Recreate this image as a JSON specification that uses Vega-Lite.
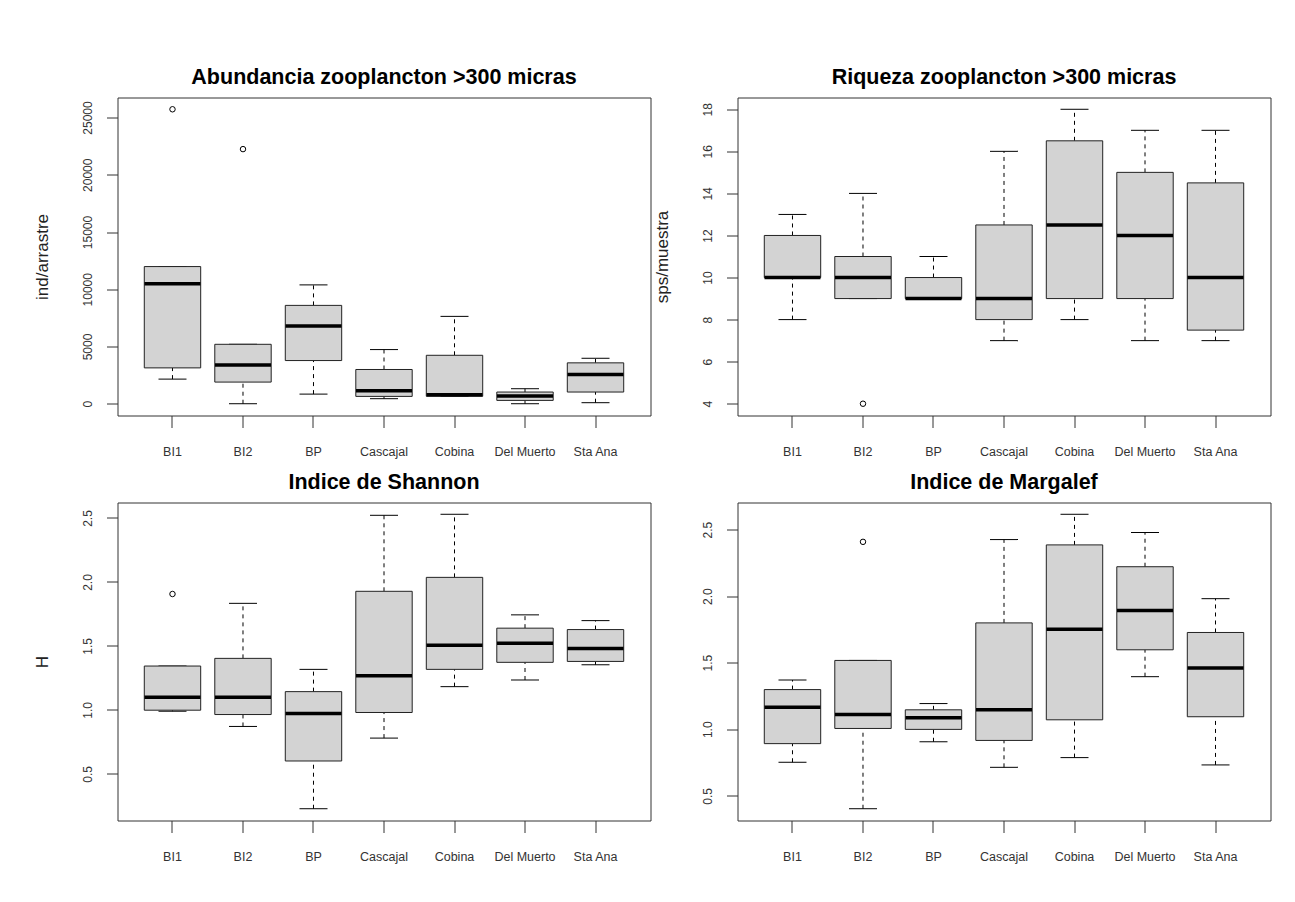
{
  "$schema": "https://vega.github.io/schema/vega-lite/v6.json",
  "background": "white",
  "padding": {"left": 32.5, "top": 65.5, "right": 5, "bottom": 5},
  "bounds": "flush",
  "columns": 2,
  "spacing": 87,
  "datasets": {
    "stats": [
      {"panel": "A", "site": "BI1", "lo": 2150, "q1": 3130, "med": 10470, "q3": 11980, "hi": 11980},
      {"panel": "A", "site": "BI2", "lo": 0, "q1": 1890, "med": 3390, "q3": 5190, "hi": 5190},
      {"panel": "A", "site": "BP", "lo": 840, "q1": 3770, "med": 6790, "q3": 8590, "hi": 10380},
      {"panel": "A", "site": "Cascajal", "lo": 440, "q1": 640, "med": 1130, "q3": 2990, "hi": 4730},
      {"panel": "A", "site": "Cobina", "lo": 640, "q1": 650, "med": 780, "q3": 4230, "hi": 7630},
      {"panel": "A", "site": "Del Muerto", "lo": 0, "q1": 290, "med": 670, "q3": 1020, "hi": 1310},
      {"panel": "A", "site": "Sta Ana", "lo": 90, "q1": 1020, "med": 2550, "q3": 3570, "hi": 3970},

      {"panel": "R", "site": "BI1", "lo": 8, "q1": 10, "med": 10, "q3": 12, "hi": 13},
      {"panel": "R", "site": "BI2", "lo": 9, "q1": 9, "med": 10, "q3": 11, "hi": 14},
      {"panel": "R", "site": "BP", "lo": 9, "q1": 9, "med": 9, "q3": 10, "hi": 11},
      {"panel": "R", "site": "Cascajal", "lo": 7, "q1": 8, "med": 9, "q3": 12.5, "hi": 16},
      {"panel": "R", "site": "Cobina", "lo": 8, "q1": 9, "med": 12.5, "q3": 16.5, "hi": 18},
      {"panel": "R", "site": "Del Muerto", "lo": 7, "q1": 9, "med": 12, "q3": 15, "hi": 17},
      {"panel": "R", "site": "Sta Ana", "lo": 7, "q1": 7.5, "med": 10, "q3": 14.5, "hi": 17},

      {"panel": "S", "site": "BI1", "lo": 0.99, "q1": 0.998, "med": 1.099, "q3": 1.343, "hi": 1.343},
      {"panel": "S", "site": "BI2", "lo": 0.871, "q1": 0.964, "med": 1.099, "q3": 1.403, "hi": 1.833},
      {"panel": "S", "site": "BP", "lo": 0.228, "q1": 0.601, "med": 0.972, "q3": 1.143, "hi": 1.317},
      {"panel": "S", "site": "Cascajal", "lo": 0.78, "q1": 0.98, "med": 1.268, "q3": 1.927, "hi": 2.521},
      {"panel": "S", "site": "Cobina", "lo": 1.182, "q1": 1.317, "med": 1.506, "q3": 2.036, "hi": 2.529},
      {"panel": "S", "site": "Del Muerto", "lo": 1.234, "q1": 1.372, "med": 1.522, "q3": 1.639, "hi": 1.743},
      {"panel": "S", "site": "Sta Ana", "lo": 1.353, "q1": 1.379, "med": 1.481, "q3": 1.628, "hi": 1.698},

      {"panel": "M", "site": "BI1", "lo": 0.752, "q1": 0.892, "med": 1.166, "q3": 1.298, "hi": 1.37},
      {"panel": "M", "site": "BI2", "lo": 0.403, "q1": 1.006, "med": 1.111, "q3": 1.517, "hi": 1.517},
      {"panel": "M", "site": "BP", "lo": 0.906, "q1": 0.999, "med": 1.086, "q3": 1.146, "hi": 1.193},
      {"panel": "M", "site": "Cascajal", "lo": 0.714, "q1": 0.916, "med": 1.146, "q3": 1.799, "hi": 2.425},
      {"panel": "M", "site": "Cobina", "lo": 0.787, "q1": 1.071, "med": 1.752, "q3": 2.385, "hi": 2.615},
      {"panel": "M", "site": "Del Muerto", "lo": 1.395, "q1": 1.597, "med": 1.892, "q3": 2.221, "hi": 2.478},
      {"panel": "M", "site": "Sta Ana", "lo": 0.732, "q1": 1.094, "med": 1.46, "q3": 1.727, "hi": 1.981}
    ],
    "outliers": [
      {"panel": "A", "site": "BI1", "value": 25720},
      {"panel": "A", "site": "BI2", "value": 22240},
      {"panel": "R", "site": "BI2", "value": 4},
      {"panel": "S", "site": "BI1", "value": 1.906},
      {"panel": "M", "site": "BI2", "value": 2.408}
    ]
  },
  "concat": [
    {
      "width": 533, "height": 318,
      "title": "Abundancia zooplancton >300 micras",
      "encoding": {
        "x": {"field": "site", "type": "nominal",
              "scale": {"domain": ["BI1", "BI2", "BP", "Cascajal", "Cobina", "Del Muerto", "Sta Ana"], "paddingInner": 0, "paddingOuter": 0.28},
              "axis": {"title": null, "bandPosition": 0.5}}
      },
      "layer": [
        {"data": {"name": "stats"}, "transform": [{"filter": "datum.panel == 'A'"}],
         "mark": {"type": "rule", "color": "black", "strokeDash": [4, 4]},
         "encoding": {"y": {"field": "q3", "type": "quantitative", "scale": {"domain": [-1029, 26749], "nice": false, "zero": false},
                            "axis": {"title": "ind/arrastre", "values": [0, 5000, 10000, 15000, 20000, 25000], "format": "d"}},
                      "y2": {"field": "hi"}}},
        {"data": {"name": "stats"}, "transform": [{"filter": "datum.panel == 'A'"}],
         "mark": {"type": "rule", "color": "black", "strokeDash": [4, 4]},
         "encoding": {"y": {"field": "lo", "type": "quantitative"}, "y2": {"field": "q1"}}},
        {"data": {"name": "stats"}, "transform": [{"filter": "datum.panel == 'A'"}],
         "mark": {"type": "tick", "color": "black", "opacity": 1, "size": 28, "thickness": 1},
         "encoding": {"y": {"field": "hi", "type": "quantitative"}}},
        {"data": {"name": "stats"}, "transform": [{"filter": "datum.panel == 'A'"}],
         "mark": {"type": "tick", "color": "black", "opacity": 1, "size": 28, "thickness": 1},
         "encoding": {"y": {"field": "lo", "type": "quantitative"}}},
        {"data": {"name": "stats"}, "transform": [{"filter": "datum.panel == 'A'"}],
         "mark": {"type": "bar", "width": {"band": 0.8}, "fill": "#d3d3d3", "stroke": "#222", "strokeWidth": 1},
         "encoding": {"y": {"field": "q1", "type": "quantitative"}, "y2": {"field": "q3"}}},
        {"data": {"name": "stats"}, "transform": [{"filter": "datum.panel == 'A'"}],
         "mark": {"type": "tick", "color": "black", "opacity": 1, "size": 56, "thickness": 3.5},
         "encoding": {"y": {"field": "med", "type": "quantitative"}}},
        {"data": {"name": "outliers"}, "transform": [{"filter": "datum.panel == 'A'"}],
         "mark": {"type": "point", "shape": "circle", "filled": false, "opacity": 1, "size": 30, "stroke": "black", "strokeWidth": 1},
         "encoding": {"y": {"field": "value", "type": "quantitative"}}}
      ]
    },
    {
      "width": 533, "height": 318,
      "title": "Riqueza zooplancton >300 micras",
      "encoding": {
        "x": {"field": "site", "type": "nominal",
              "scale": {"domain": ["BI1", "BI2", "BP", "Cascajal", "Cobina", "Del Muerto", "Sta Ana"], "paddingInner": 0, "paddingOuter": 0.28},
              "axis": {"title": null, "bandPosition": 0.5}}
      },
      "layer": [
        {"data": {"name": "stats"}, "transform": [{"filter": "datum.panel == 'R'"}],
         "mark": {"type": "rule", "color": "black", "strokeDash": [4, 4]},
         "encoding": {"y": {"field": "q3", "type": "quantitative", "scale": {"domain": [3.44, 18.56], "nice": false, "zero": false},
                            "axis": {"title": "sps/muestra", "values": [4, 6, 8, 10, 12, 14, 16, 18], "format": "d"}},
                      "y2": {"field": "hi"}}},
        {"data": {"name": "stats"}, "transform": [{"filter": "datum.panel == 'R'"}],
         "mark": {"type": "rule", "color": "black", "strokeDash": [4, 4]},
         "encoding": {"y": {"field": "lo", "type": "quantitative"}, "y2": {"field": "q1"}}},
        {"data": {"name": "stats"}, "transform": [{"filter": "datum.panel == 'R'"}],
         "mark": {"type": "tick", "color": "black", "opacity": 1, "size": 28, "thickness": 1},
         "encoding": {"y": {"field": "hi", "type": "quantitative"}}},
        {"data": {"name": "stats"}, "transform": [{"filter": "datum.panel == 'R'"}],
         "mark": {"type": "tick", "color": "black", "opacity": 1, "size": 28, "thickness": 1},
         "encoding": {"y": {"field": "lo", "type": "quantitative"}}},
        {"data": {"name": "stats"}, "transform": [{"filter": "datum.panel == 'R'"}],
         "mark": {"type": "bar", "width": {"band": 0.8}, "fill": "#d3d3d3", "stroke": "#222", "strokeWidth": 1},
         "encoding": {"y": {"field": "q1", "type": "quantitative"}, "y2": {"field": "q3"}}},
        {"data": {"name": "stats"}, "transform": [{"filter": "datum.panel == 'R'"}],
         "mark": {"type": "tick", "color": "black", "opacity": 1, "size": 56, "thickness": 3.5},
         "encoding": {"y": {"field": "med", "type": "quantitative"}}},
        {"data": {"name": "outliers"}, "transform": [{"filter": "datum.panel == 'R'"}],
         "mark": {"type": "point", "shape": "circle", "filled": false, "opacity": 1, "size": 30, "stroke": "black", "strokeWidth": 1},
         "encoding": {"y": {"field": "value", "type": "quantitative"}}}
      ]
    },
    {
      "width": 533, "height": 318,
      "title": "Indice de Shannon",
      "encoding": {
        "x": {"field": "site", "type": "nominal",
              "scale": {"domain": ["BI1", "BI2", "BP", "Cascajal", "Cobina", "Del Muerto", "Sta Ana"], "paddingInner": 0, "paddingOuter": 0.28},
              "axis": {"title": null, "bandPosition": 0.5}}
      },
      "layer": [
        {"data": {"name": "stats"}, "transform": [{"filter": "datum.panel == 'S'"}],
         "mark": {"type": "rule", "color": "black", "strokeDash": [4, 4]},
         "encoding": {"y": {"field": "q3", "type": "quantitative", "scale": {"domain": [0.136, 2.621], "nice": false, "zero": false},
                            "axis": {"title": "H", "values": [0.5, 1, 1.5, 2, 2.5], "format": ".1f"}},
                      "y2": {"field": "hi"}}},
        {"data": {"name": "stats"}, "transform": [{"filter": "datum.panel == 'S'"}],
         "mark": {"type": "rule", "color": "black", "strokeDash": [4, 4]},
         "encoding": {"y": {"field": "lo", "type": "quantitative"}, "y2": {"field": "q1"}}},
        {"data": {"name": "stats"}, "transform": [{"filter": "datum.panel == 'S'"}],
         "mark": {"type": "tick", "color": "black", "opacity": 1, "size": 28, "thickness": 1},
         "encoding": {"y": {"field": "hi", "type": "quantitative"}}},
        {"data": {"name": "stats"}, "transform": [{"filter": "datum.panel == 'S'"}],
         "mark": {"type": "tick", "color": "black", "opacity": 1, "size": 28, "thickness": 1},
         "encoding": {"y": {"field": "lo", "type": "quantitative"}}},
        {"data": {"name": "stats"}, "transform": [{"filter": "datum.panel == 'S'"}],
         "mark": {"type": "bar", "width": {"band": 0.8}, "fill": "#d3d3d3", "stroke": "#222", "strokeWidth": 1},
         "encoding": {"y": {"field": "q1", "type": "quantitative"}, "y2": {"field": "q3"}}},
        {"data": {"name": "stats"}, "transform": [{"filter": "datum.panel == 'S'"}],
         "mark": {"type": "tick", "color": "black", "opacity": 1, "size": 56, "thickness": 3.5},
         "encoding": {"y": {"field": "med", "type": "quantitative"}}},
        {"data": {"name": "outliers"}, "transform": [{"filter": "datum.panel == 'S'"}],
         "mark": {"type": "point", "shape": "circle", "filled": false, "opacity": 1, "size": 30, "stroke": "black", "strokeWidth": 1},
         "encoding": {"y": {"field": "value", "type": "quantitative"}}}
      ]
    },
    {
      "width": 533, "height": 318,
      "title": "Indice de Margalef",
      "encoding": {
        "x": {"field": "site", "type": "nominal",
              "scale": {"domain": ["BI1", "BI2", "BP", "Cascajal", "Cobina", "Del Muerto", "Sta Ana"], "paddingInner": 0, "paddingOuter": 0.28},
              "axis": {"title": null, "bandPosition": 0.5}}
      },
      "layer": [
        {"data": {"name": "stats"}, "transform": [{"filter": "datum.panel == 'M'"}],
         "mark": {"type": "rule", "color": "black", "strokeDash": [4, 4]},
         "encoding": {"y": {"field": "q3", "type": "quantitative", "scale": {"domain": [0.3145, 2.7035], "nice": false, "zero": false},
                            "axis": {"title": null, "values": [0.5, 1, 1.5, 2, 2.5], "format": ".1f"}},
                      "y2": {"field": "hi"}}},
        {"data": {"name": "stats"}, "transform": [{"filter": "datum.panel == 'M'"}],
         "mark": {"type": "rule", "color": "black", "strokeDash": [4, 4]},
         "encoding": {"y": {"field": "lo", "type": "quantitative"}, "y2": {"field": "q1"}}},
        {"data": {"name": "stats"}, "transform": [{"filter": "datum.panel == 'M'"}],
         "mark": {"type": "tick", "color": "black", "opacity": 1, "size": 28, "thickness": 1},
         "encoding": {"y": {"field": "hi", "type": "quantitative"}}},
        {"data": {"name": "stats"}, "transform": [{"filter": "datum.panel == 'M'"}],
         "mark": {"type": "tick", "color": "black", "opacity": 1, "size": 28, "thickness": 1},
         "encoding": {"y": {"field": "lo", "type": "quantitative"}}},
        {"data": {"name": "stats"}, "transform": [{"filter": "datum.panel == 'M'"}],
         "mark": {"type": "bar", "width": {"band": 0.8}, "fill": "#d3d3d3", "stroke": "#222", "strokeWidth": 1},
         "encoding": {"y": {"field": "q1", "type": "quantitative"}, "y2": {"field": "q3"}}},
        {"data": {"name": "stats"}, "transform": [{"filter": "datum.panel == 'M'"}],
         "mark": {"type": "tick", "color": "black", "opacity": 1, "size": 56, "thickness": 3.5},
         "encoding": {"y": {"field": "med", "type": "quantitative"}}},
        {"data": {"name": "outliers"}, "transform": [{"filter": "datum.panel == 'M'"}],
         "mark": {"type": "point", "shape": "circle", "filled": false, "opacity": 1, "size": 30, "stroke": "black", "strokeWidth": 1},
         "encoding": {"y": {"field": "value", "type": "quantitative"}}}
      ]
    }
  ],
  "config": {
    "font": "Liberation Sans",
    "view": {"stroke": "#333", "strokeWidth": 1},
    "axis": {"grid": false, "domain": false, "tickColor": "#333", "labelColor": "#333",
             "labelFont": "Liberation Sans", "titleFont": "Liberation Sans", "titleFontWeight": "normal", "titleColor": "#222"},
    "axisX": {"labelAngle": 0, "tickSize": 12, "labelPadding": 28, "labelBaseline": "alphabetic", "labelFontSize": 12.5},
    "axisY": {"labelAngle": -90, "labelAlign": "center", "labelBaseline": "alphabetic", "tickSize": 11, "labelPadding": 15,
              "labelFontSize": 12, "titleFontSize": 17, "titleX": -70, "titleBaseline": "alphabetic"},
    "title": {"font": "Liberation Sans", "fontSize": 21.5, "fontWeight": "bold", "color": "black", "anchor": "middle",
              "frame": "group", "baseline": "alphabetic", "offset": 9.5}
  }
}
